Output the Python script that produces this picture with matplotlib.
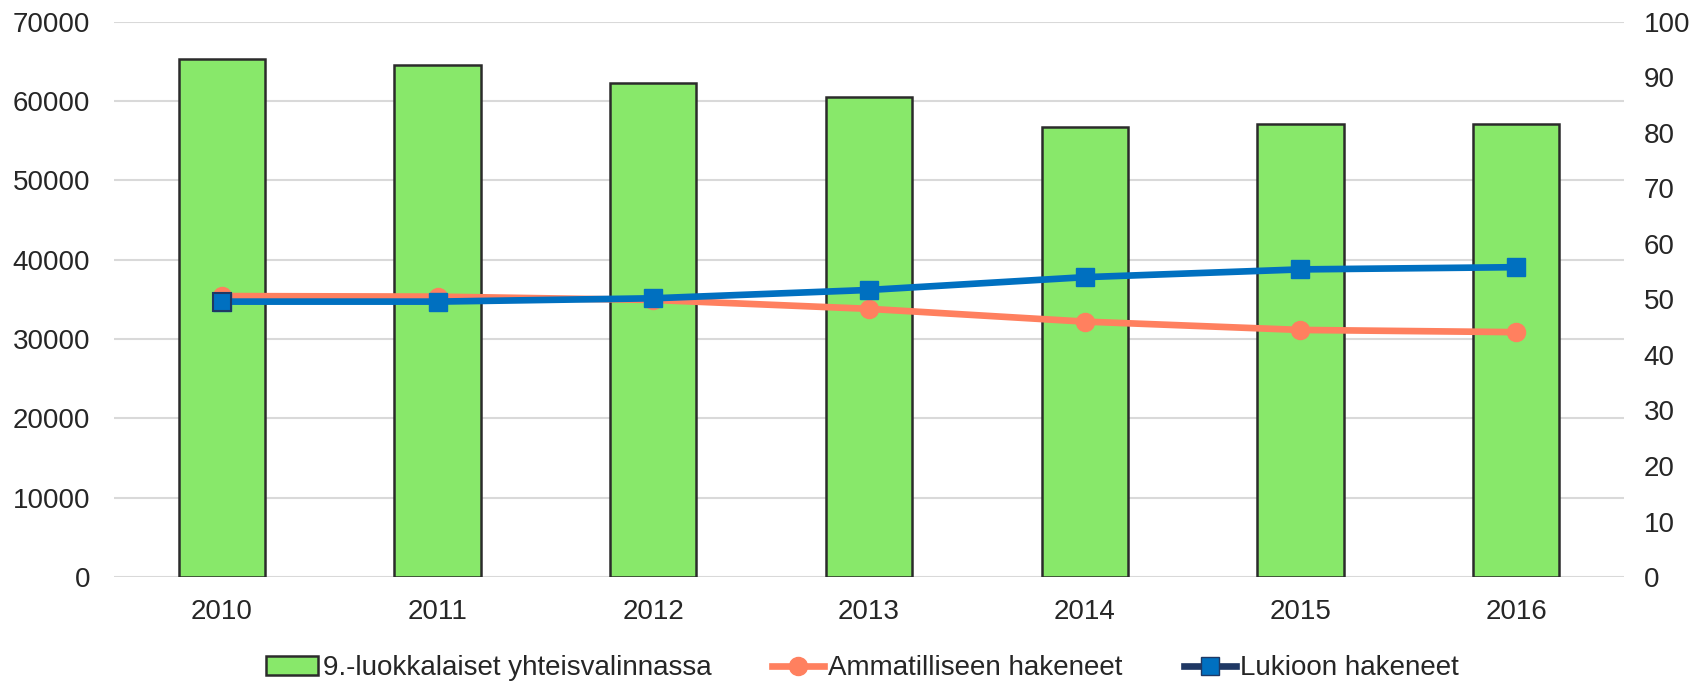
import matplotlib
matplotlib.use("Agg")
import matplotlib.pyplot as plt
from matplotlib.lines import Line2D
from matplotlib.patches import Patch

years = ["2010", "2011", "2012", "2013", "2014", "2015", "2016"]
ninth_graders = [65300, 64560, 62320, 60550, 56750, 57160, 57140]
vocational = [50.6, 50.5, 49.9, 48.3, 46.0, 44.5, 44.1]
upper_secondary = [49.6, 49.6, 50.2, 51.7, 54.0, 55.4, 55.8]

plt.rcParams['font.family'] = ['Liberation Sans', 'DejaVu Sans']

fig = plt.figure(figsize=(16.98, 6.87), dpi=100)
ax = fig.add_axes([0.0671, 0.160, 0.8893, 0.8084])
x = list(range(len(years)))

green = "#88E86A"
orange = "#FF805F"
blue = "#0070C0"
navy = "#1F3864"
txt = "#262626"
fs = 20

ax.bar(x, ninth_graders, width=0.4, color=green, edgecolor="#2b2b2b", linewidth=1.8, zorder=2)
ax.set_xlim(-0.5, len(years) - 0.5)
ax.set_ylim(0, 70000)
ax.set_yticks(range(0, 70001, 10000))
ax.set_xticks(x)
ax.set_xticklabels(years)
ax.grid(axis="y", color="#d9d9d9", linewidth=1.5, zorder=0)
ax.set_axisbelow(True)
for s in ax.spines.values():
    s.set_visible(False)
ax.tick_params(axis="both", length=0, labelsize=fs, colors=txt)
ax.tick_params(axis="y", pad=17)
ax.tick_params(axis="x", pad=16)

ax2 = ax.twinx()
ax2.set_ylim(0, 100)
ax2.set_yticks(range(0, 101, 10))
for s in ax2.spines.values():
    s.set_visible(False)
ax2.tick_params(axis="y", length=0, labelsize=fs, colors=txt, pad=14)

ax2.plot(x, vocational, color=orange, linewidth=4.8, marker="o", markersize=13,
         markerfacecolor=orange, markeredgecolor=orange, zorder=3)
ax2.plot(x, upper_secondary, color=blue, linewidth=4.8, marker="s", markersize=13,
         markerfacecolor=blue, markeredgecolor=blue, zorder=4)
ax2.plot(x[:1], upper_secondary[:1], linestyle="none", marker="s", markersize=13,
         markerfacecolor=blue, markeredgecolor=navy, markeredgewidth=1.5, zorder=5)

handles = [
    Patch(facecolor=green, edgecolor="#2b2b2b", linewidth=1.8),
    Line2D([0], [0], color=orange, linewidth=4.8, marker="o", markersize=13,
           markerfacecolor=orange, markeredgecolor=orange),
    Line2D([0], [0], color=navy, linewidth=4.8, marker="s", markersize=13,
           markerfacecolor=blue, markeredgecolor=navy),
]
labels = ["9.-luokkalaiset yhteisvalinnassa", "Ammatilliseen hakeneet", "Lukioon hakeneet"]
fig.legend(handles, labels, loc="center", bbox_to_anchor=(0.508, 0.027), ncol=3,
           frameon=False, fontsize=fs, handlelength=1.87, handletextpad=0.15,
           columnspacing=2.2, labelcolor=txt, borderpad=0.1)

fig.savefig("out.png", dpi=100)
